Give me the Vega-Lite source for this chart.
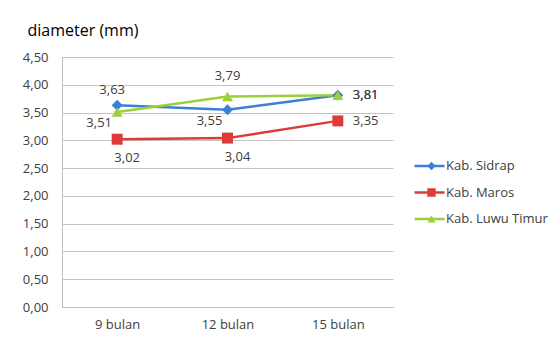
{
  "$schema": "https://vega.github.io/schema/vega-lite/v6.json",
  "width": 331,
  "height": 250,
  "autosize": {"type": "none"},
  "padding": {"left": 62, "top": 57, "right": 167, "bottom": 36},
  "background": "white",
  "config": {
    "locale": {"number": {"decimal": ",", "thousands": ".", "grouping": [3], "currency": ["", ""]}},
    "view": {"stroke": null},
    "font": "Open Sans",
    "axis": {"labelFont": "Open Sans", "labelFontSize": 13, "labelColor": "#404040", "titleFont": "Open Sans"},
    "legend": {"labelFont": "Open Sans", "labelFontSize": 13, "labelColor": "#404040"}
  },
  "data": {
    "values": [
      {"month": "9 bulan", "series": "Kab. Sidrap", "value": 3.63},
      {"month": "12 bulan", "series": "Kab. Sidrap", "value": 3.55},
      {"month": "15 bulan", "series": "Kab. Sidrap", "value": 3.81},
      {"month": "9 bulan", "series": "Kab. Maros", "value": 3.02},
      {"month": "12 bulan", "series": "Kab. Maros", "value": 3.04},
      {"month": "15 bulan", "series": "Kab. Maros", "value": 3.35},
      {"month": "9 bulan", "series": "Kab. Luwu Timur", "value": 3.51},
      {"month": "12 bulan", "series": "Kab. Luwu Timur", "value": 3.79},
      {"month": "15 bulan", "series": "Kab. Luwu Timur", "value": 3.81}
    ]
  },
  "encoding": {
    "x": {
      "field": "month", "type": "nominal",
      "sort": ["9 bulan", "12 bulan", "15 bulan"],
      "scale": {"type": "point", "padding": 0.5},
      "axis": {"title": null, "labelAngle": 0, "ticks": false, "grid": false, "domainColor": "#bfbfbf", "labelPadding": 11}
    },
    "y": {
      "field": "value", "type": "quantitative",
      "scale": {"domain": [0, 4.5], "nice": false, "zero": true},
      "axis": {
        "values": [0, 0.5, 1, 1.5, 2, 2.5, 3, 3.5, 4, 4.5],
        "format": ".2f",
        "ticks": false,
        "labelPadding": 14,
        "gridColor": "#c4c4c4",
        "domainColor": "#bfbfbf",
        "title": "diameter (mm)",
        "titleAngle": 0,
        "titleAlign": "left",
        "titleBaseline": "middle",
        "titleX": -35,
        "titleY": -27,
        "titleFontSize": 16,
        "titleFontWeight": "normal",
        "titleColor": "#000000"
      }
    }
  },
  "layer": [
    {
      "mark": {"type": "line", "strokeWidth": 2.5},
      "encoding": {
        "color": {
          "field": "series", "type": "nominal",
          "scale": {"domain": ["Kab. Sidrap", "Kab. Maros", "Kab. Luwu Timur"], "range": ["#3c7fd8", "#df3a3a", "#9bd03a"]},
          "legend": {"title": null, "orient": "none", "legendX": 351, "legendY": 101, "padding": 0, "symbolType": "stroke", "symbolSize": 900, "symbolStrokeWidth": 2.5, "labelOffset": 0, "clipHeight": 16, "rowPadding": 10.5}
        }
      }
    },
    {
      "mark": {"type": "point", "filled": true, "opacity": 1, "size": 120},
      "encoding": {
        "color": {
          "field": "series", "type": "nominal",
          "scale": {"domain": ["Kab. Sidrap", "Kab. Maros", "Kab. Luwu Timur"], "range": ["#3c7fd8", "#df3a3a", "#9bd03a"]},
          "legend": {"title": null, "orient": "none", "legendX": 353, "legendY": 101, "padding": 0, "symbolSize": 70, "symbolOffset": 10, "symbolOpacity": 1, "labelOffset": 12, "labelExpr": "''", "clipHeight": 16, "rowPadding": 10.5}
        },
        "shape": {
          "field": "series", "type": "nominal",
          "scale": {"domain": ["Kab. Sidrap", "Kab. Maros", "Kab. Luwu Timur"], "range": ["diamond", "square", "triangle-up"]},
          "legend": {"title": null, "orient": "none", "legendX": 353, "legendY": 101, "padding": 0, "symbolSize": 70, "symbolOffset": 10, "labelOffset": 12, "labelExpr": "''", "clipHeight": 16, "rowPadding": 10.5}
        }
      }
    },
    {
      "transform": [{"filter": "datum.series == 'Kab. Sidrap' && datum.month == '9 bulan'"}],
      "mark": {"type": "text", "dx": -5, "dy": -15, "fontSize": 13, "color": "#404040"},
      "encoding": {"text": {"field": "value", "type": "quantitative", "format": ".2f"}}
    },
    {
      "transform": [{"filter": "datum.series == 'Kab. Luwu Timur' && datum.month == '12 bulan'"}],
      "mark": {"type": "text", "dx": 0, "dy": -20, "fontSize": 13, "color": "#404040"},
      "encoding": {"text": {"field": "value", "type": "quantitative", "format": ".2f"}}
    },
    {
      "transform": [{"filter": "(datum.series == 'Kab. Sidrap' && datum.month == '12 bulan') || (datum.series == 'Kab. Luwu Timur' && datum.month == '9 bulan')"}],
      "mark": {"type": "text", "dx": -18, "dy": 11, "fontSize": 13, "color": "#404040"},
      "encoding": {"text": {"field": "value", "type": "quantitative", "format": ".2f"}}
    },
    {
      "transform": [{"filter": "datum.series == 'Kab. Maros' && datum.month != '15 bulan'"}],
      "mark": {"type": "text", "dx": 10, "dy": 19, "fontSize": 13, "color": "#404040"},
      "encoding": {"text": {"field": "value", "type": "quantitative", "format": ".2f"}}
    },
    {
      "transform": [{"filter": "datum.month == '15 bulan'"}],
      "mark": {"type": "text", "align": "left", "dx": 15, "dy": 0, "fontSize": 13, "color": "#404040"},
      "encoding": {"text": {"field": "value", "type": "quantitative", "format": ".2f"}}
    }
  ],
  "resolve": {"scale": {"color": "independent", "shape": "independent"}, "legend": {"color": "independent", "shape": "independent"}}
}
